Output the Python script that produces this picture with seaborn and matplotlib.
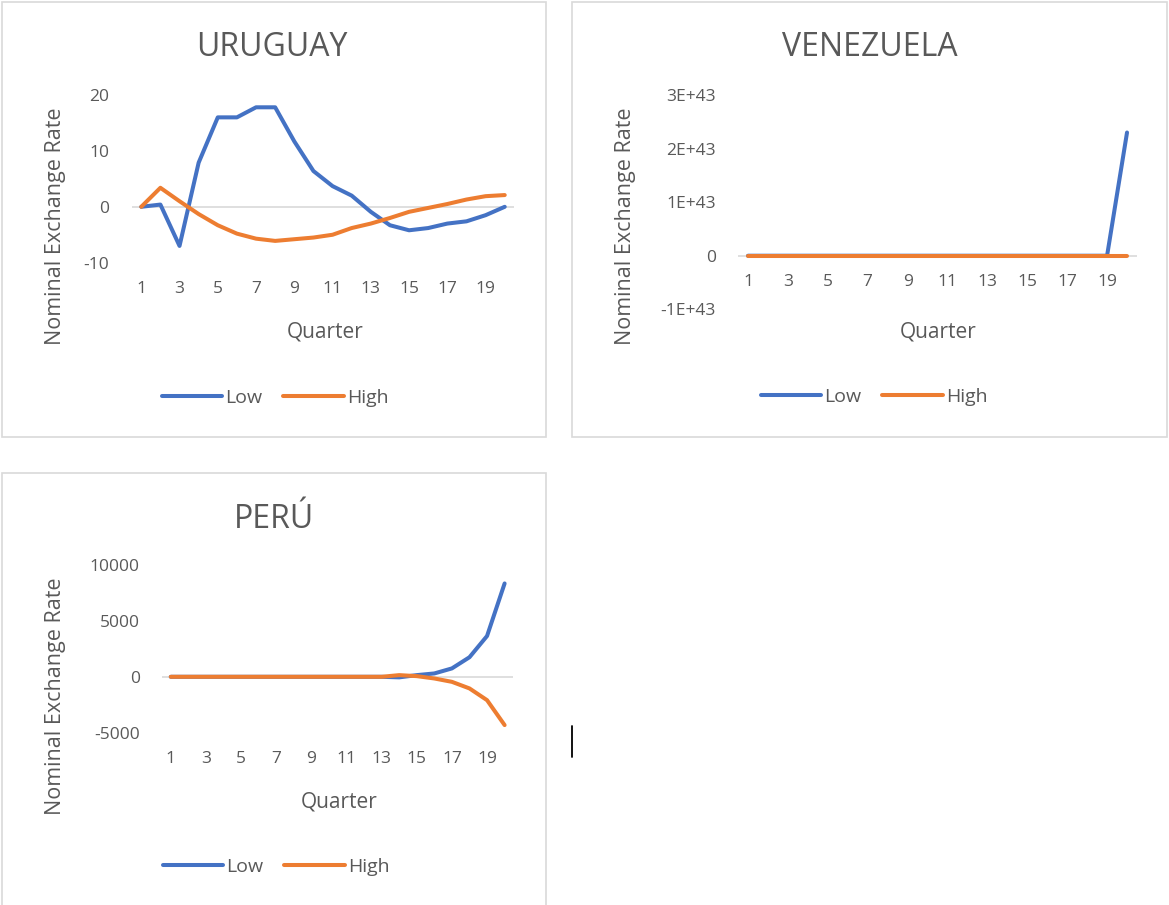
import pandas as pd
import matplotlib.pyplot as plt
import seaborn as sns
from matplotlib.patches import Rectangle
from matplotlib.lines import Line2D
from matplotlib.ticker import FuncFormatter

quarters = list(range(1, 21))

uruguay_low = [0.0, 0.4, -7.0, 7.9, 16.0, 16.0, 17.8, 17.8, 11.7, 6.4,
               3.7, 2.0, -0.9, -3.3, -4.2, -3.8, -3.0, -2.6, -1.5, 0.0]
uruguay_high = [0.0, 3.4, 1.0, -1.3, -3.3, -4.8, -5.7, -6.1, -5.8, -5.5,
                -5.0, -3.8, -3.0, -2.0, -0.9, -0.2, 0.5, 1.3, 1.9, 2.1]

venezuela_low = [0, 0, 0, 0, 0, 0, 0, 0, 0, 0,
                 0, 0, 0, 0, 0, 0, 0, 0, 0, 2.3e43]
venezuela_high = [0, 0, 0, 0, 0, 0, 0, 0, 0, 0,
                  0, 0, 0, 0, 0, 0, 0, 0, 0, 0]

peru_low = [0, 0, 0, 0, 0, 0, 0, 0, 0, 0,
            0, 0, 0, -50, 150, 300, 750, 1750, 3650, 8350]
peru_high = [0, 0, 0, 0, 0, 0, 0, 0, 0, 0,
             0, 0, 0, 150, 60, -150, -450, -1040, -2090, -4320]

series_names = ["Low", "High"]
colors = {"Low": "#4472C4", "High": "#ED7D31"}
text_col = "#595959"
grey = "#D9D9D9"

W, H = 1169, 905

sns.set_theme(style="white")
plt.rcParams["font.family"] = ["Open Sans", "DejaVu Sans"]
plt.rcParams["axes.unicode_minus"] = False


def px_rect(l, t, r, b):
    return [l / W, 1 - b / H, (r - l) / W, (b - t) / H]


def make_df(low, high):
    return pd.DataFrame({
        "Quarter": quarters * 2,
        "Rate": low + high,
        "Series": ["Low"] * len(low) + ["High"] * len(high),
    })


fig = plt.figure(figsize=(W / 100, H / 100), dpi=100)

# panel frames
for l, t, r, b in [(2, 2, 546, 437), (572, 2, 1167, 437), (2, 473, 546, 915)]:
    fig.add_artist(Rectangle((l / W, 1 - b / H), (r - l) / W, (b - t) / H,
                             transform=fig.transFigure, fill=False,
                             ec=grey, lw=1.2))

panels = [
    # title, low, high, axes box, ylim, yticks, title pos, xlabel pos, ylabel pos, legend pos
    ("URUGUAY", uruguay_low, uruguay_high, (131.7, 95, 514.3, 262.7),
     (-10, 20), [-10, 0, 10, 20], (272, 56), (325, 332), (56, 226), (275, 398)),
    ("VENEZUELA", venezuela_low, venezuela_high, (738, 95, 1137, 309.3),
     (-1e43, 3e43), [-1e43, 0, 1e43, 2e43, 3e43], (870, 56), (938, 332), (626, 226), (874, 397)),
    ("PERÚ", peru_low, peru_high, (162, 565, 513.4, 732.7),
     (-5000, 10000), [-5000, 0, 5000, 10000], (274, 528), (339, 802), (55, 696), (276, 867)),
]

for title, low, high, box, ylim, yticks, tpos, xlpos, ylpos, lgpos in panels:
    ax = fig.add_axes(px_rect(*box))
    df = make_df(low, high)
    ax.axhline(0, color=grey, lw=1.2, zorder=0)
    sns.lineplot(data=df, x="Quarter", y="Rate", hue="Series",
                 hue_order=series_names, palette=colors, linewidth=2.9,
                 ax=ax, legend=False)
    ax.set_xlim(0.5, 20.5)
    ax.set_ylim(*ylim)
    ax.set_xticks(list(range(1, 21, 2)))
    ax.set_yticks(yticks)
    if title == "VENEZUELA":
        ax.spines["bottom"].set_position(("data", 0))
        ax.yaxis.set_major_formatter(FuncFormatter(
            lambda v, p: "0" if v == 0 else f"{v / 1e43:.0f}E+43"))
    for s in ax.spines.values():
        s.set_visible(False)
    ax.tick_params(axis="both", length=0, labelsize=12.5, labelcolor=text_col)
    ax.tick_params(axis="y", pad=16)
    ax.tick_params(axis="x", pad=13)
    ax.set_xlabel("Quarter", fontsize=15, color=text_col, va="center")
    ax.set_ylabel("Nominal Exchange Rate", fontsize=15.5, color=text_col, va="center")
    ax.xaxis.set_label_coords(xlpos[0] / W, 1 - xlpos[1] / H, transform=fig.transFigure)
    ax.yaxis.set_label_coords(ylpos[0] / W, 1 - ylpos[1] / H, transform=fig.transFigure)
    fig.text(tpos[0] / W, 1 - tpos[1] / H, title, fontsize=23, color=text_col,
             ha="center", va="baseline")
    handles = [Line2D([], [], color=colors[n], lw=2.9) for n in series_names]
    ax.legend(handles, series_names, loc="center", ncol=2, frameon=False,
              bbox_to_anchor=(lgpos[0] / W, 1 - lgpos[1] / H),
              bbox_transform=fig.transFigure, fontsize=14, labelcolor=text_col,
              handlelength=3.1, handletextpad=0.15, columnspacing=1.1)

# text cursor left in the sheet
fig.add_artist(Line2D([572 / W, 572 / W], [1 - 726 / H, 1 - 757 / H],
                      transform=fig.transFigure, color="black", lw=1.3))

fig.savefig("out.png", dpi=100)
